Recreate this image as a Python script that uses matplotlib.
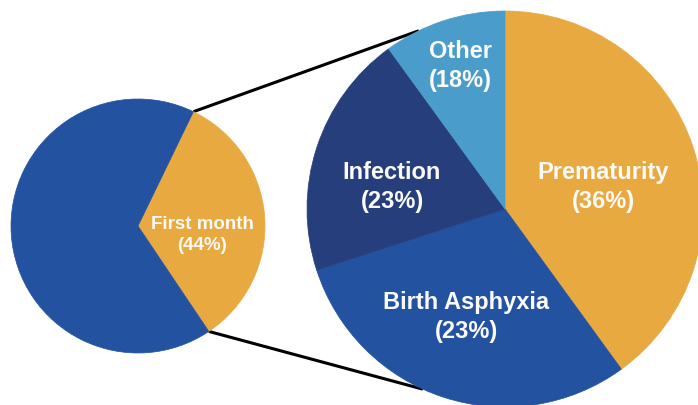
import numpy as np
import matplotlib.pyplot as plt

# left pie: share of deaths in the first month
left_labels = ['First month', 'Later']
left_pct = [44, 56]
left_shares = [33.4, 66.6]  # wedge sizes as drawn in the picture

# right pie: causes of death in the first month
right_labels = ['Prematurity', 'Birth Asphyxia', 'Infection', 'Other']
right_pct = [36, 23, 23, 18]
right_shares = [40, 30, 20, 10]  # wedge sizes as drawn in the picture

orange = '#E9A941'
blue = '#2252A0'
navy = '#263E7B'
light_blue = '#4A9CCB'

plt.rcParams['font.family'] = ['Liberation Sans', 'DejaVu Sans']

fig = plt.figure(figsize=(6.98, 4.06), dpi=100)
ax = fig.add_axes([0, 0, 1, 1])

left_c, left_r = (138, 179), 127
right_c, right_r = (505, 196), 198

lw, _ = ax.pie(left_shares, colors=[orange, blue], startangle=-56.1,
               center=left_c, radius=left_r, frame=True,
               wedgeprops=dict(linewidth=0))
rw, _ = ax.pie(right_shares, colors=[orange, blue, navy, light_blue],
               startangle=90, counterclock=False,
               center=right_c, radius=right_r, frame=True,
               wedgeprops=dict(linewidth=0))
for w in lw + rw:
    w.set_edgecolor(w.get_facecolor())
    w.set_linewidth(0.5)

# connector lines from the orange wedge to the big pie
def on_circle(c, r, ang):
    a = np.deg2rad(ang)
    return c[0] + r * np.cos(a), c[1] + r * np.sin(a)

first = lw[0]
p1 = on_circle(left_c, left_r, first.theta2)
p2 = on_circle(left_c, left_r, first.theta1)
q1 = on_circle(right_c, right_r, 115.8)
q2 = on_circle(right_c, right_r, -114.5)
for p, q in [(p1, q1), (p2, q2)]:
    ax.plot([p[0], q[0]], [p[1], q[1]], color='black', lw=2.2, zorder=0,
            solid_capstyle='butt')

txt = dict(color='#FBFAF7', fontweight='bold', ha='center', va='center',
           linespacing=1.28)
ax.text(202, 406 - 235, f'{left_labels[0]}\n({left_pct[0]}%)', fontsize=13.5, **txt)

right_pos = [(603, 406 - 187), (466, 406 - 317), (392, 406 - 187), (460, 406 - 66)]
for name, pct, (x, y) in zip(right_labels, right_pct, right_pos):
    ax.text(x, y, f'{name}\n({pct}%)', fontsize=17, **txt)

ax.set_xlim(0, 698)
ax.set_ylim(0, 406)
ax.set_aspect('equal')
ax.axis('off')

fig.savefig('out.png', dpi=100, facecolor='white')
